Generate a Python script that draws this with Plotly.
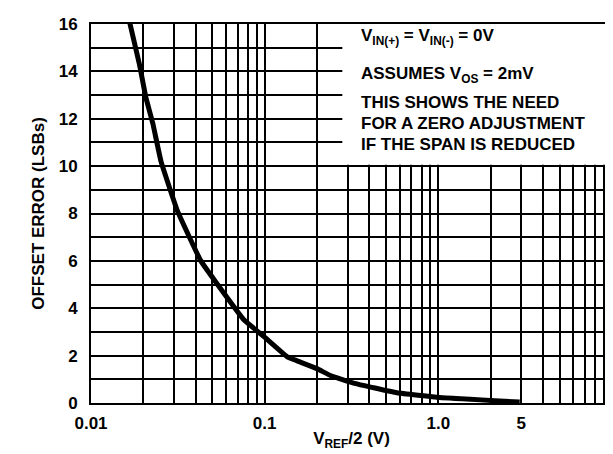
import plotly.graph_objects as go

# Data
vref_half = [0.0163, 0.019, 0.0207, 0.0227, 0.0253, 0.0315, 0.0429, 0.0524,
             0.0762, 0.0992, 0.135, 0.154, 0.2, 0.239, 0.325, 0.577, 1.02, 2.94]
offset_lsb = [16.4, 14.3, 12.9, 11.8, 10.2, 8.1, 6.0, 5.1,
              3.5, 2.8, 1.95, 1.78, 1.45, 1.16, 0.84, 0.43, 0.23, 0.04]

x_tick_vals = [0.01, 0.1, 1, 3]
x_tick_text = ["0.01", "0.1", "1.0", "5"]
y_tick_vals = [0, 2, 4, 6, 8, 10, 12, 14, 16]
y_tick_text = ["0", "2", "4", "6", "8", "10", "12", "14", "16"]

note_lines = [
    "V<sub>IN(+)</sub> = V<sub>IN(-)</sub> = 0V",
    "ASSUMES V<sub>OS</sub> = 2mV",
    "THIS SHOWS THE NEED",
    "FOR A ZERO ADJUSTMENT",
    "IF THE SPAN IS REDUCED",
]
note_y = [0.966, 0.865, 0.794, 0.737, 0.682]

FONT = "Liberation Sans, Arial, sans-serif"
minor_x = [d * 10 ** e for e in (-2, -1, 0) for d in range(2, 10)]

fig = go.Figure()
fig.add_trace(go.Scatter(
    x=vref_half, y=offset_lsb, mode="lines",
    line=dict(color="black", width=5, shape="spline", smoothing=0.3),
    hoverinfo="skip", showlegend=False,
))

fig.add_shape(type="rect", xref="x", yref="y", x0=0.28, x1=10, y0=10.06, y1=16,
              fillcolor="white", line=dict(width=0), layer="between")

for txt, yy in zip(note_lines, note_y):
    fig.add_annotation(xref="paper", yref="paper", x=0.514, y=yy, text=txt,
                       showarrow=False, xanchor="left", yanchor="middle",
                       font=dict(family=FONT, size=17, color="black", weight=700))

fig.update_layout(
    width=613, height=454,
    margin=dict(l=83, r=7, t=11, b=59),
    paper_bgcolor="white", plot_bgcolor="white",
    xaxis=dict(
        type="log", range=[-2, 1],
        tickmode="array", tickvals=x_tick_vals, ticktext=x_tick_text,
        showgrid=True, gridcolor="black", gridwidth=2,
        minor=dict(tickvals=minor_x, showgrid=True, gridcolor="black", gridwidth=2, ticks=""),
        showline=True, linecolor="black", linewidth=2, mirror=True,
        ticks="", zeroline=False, ticklabelstandoff=4,
        tickfont=dict(family=FONT, size=17, color="black", weight=700),
        title=dict(text="V<sub>REF</sub>/2 (V)", standoff=0,
                   font=dict(family=FONT, size=17, color="black", weight=700)),
    ),
    yaxis=dict(
        range=[0, 16],
        tickmode="array", tickvals=y_tick_vals, ticktext=y_tick_text,
        showgrid=True, gridcolor="black", gridwidth=2,
        minor=dict(dtick=1, showgrid=True, gridcolor="black", gridwidth=2, ticks=""),
        showline=True, linecolor="black", linewidth=2, mirror=True,
        ticks="", zeroline=False, ticklabelstandoff=8,
        tickfont=dict(family=FONT, size=17, color="black", weight=700),
        title=dict(text="OFFSET ERROR (LSBs)", standoff=10,
                   font=dict(family=FONT, size=17, color="black", weight=700)),
    ),
)

fig.write_html("out.html")
